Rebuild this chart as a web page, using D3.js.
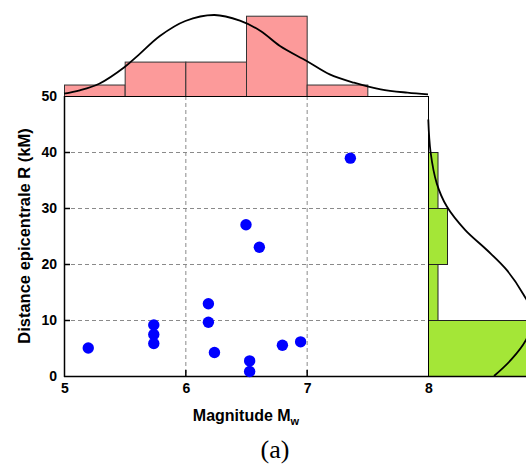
<!DOCTYPE html>
<html>
<head>
<meta charset="utf-8">
<script src="https://cdn.jsdelivr.net/npm/d3@7"></script>
<style>
  html, body { margin: 0; padding: 0; background: #fff; }
  svg { display: block; }
</style>
</head>
<body>
<script>
// ---------- data ----------
const magnitude = [5.20, 5.74, 5.74, 5.74, 6.19, 6.19, 6.24, 6.50, 6.53, 6.53, 6.61, 6.80, 6.95, 7.36];
const distance  = [5.0, 9.1, 7.4, 5.8, 12.9, 9.6, 4.2, 27.0, 2.7, 0.8, 23.0, 5.5, 6.1, 38.9];

const magBinEdges = [5, 5.5, 6, 6.5, 7, 7.5];
const magCounts   = [1, 3, 3, 7, 1];
const distBinEdges = [0, 10, 20, 30, 40];
const distCounts   = [11, 1, 2, 1];

// fitted density curves (in count units)
const magCurveM = [5.0, 5.13, 5.29, 5.5, 5.62, 5.79, 6.0, 6.24, 6.45, 6.62, 6.78, 7.0, 7.19, 7.39, 7.61, 7.83, 8.0];
const magCurveC = [0.2, 0.49, 1.07, 2.53, 3.63, 5.23, 6.54, 7.06, 6.57, 5.67, 4.36, 3.05, 1.88, 1.16, 0.58, 0.29, 0.14];
const distCurveD = [0, 3, 6.4, 10.5, 14.7, 18.9, 22.5, 26.1, 30.3, 34.4, 40, 45.8];
const distCurveC = [6.95, 8.8, 10.3, 11.15, 10.0, 8.3, 6.2, 3.9, 1.97, 0.92, 0.27, 0.03];

const xTicks = [5, 6, 7, 8];
const yTicks = [0, 10, 20, 30, 40, 50];
const xGrid = [6, 7];
const yGrid = [10, 20, 30, 40];

const xLabel = "Magnitude M";
const xLabelSub = "w";
const yLabel = "Distance epicentrale R (kM)";
const panelLabel = "(a)";

// ---------- layout ----------
const W = 526, H = 465;
const svg = d3.select("body").append("svg").attr("width", W).attr("height", H);

const x = d3.scaleLinear().domain([5, 8]).range([64, 428]);
const y = d3.scaleLinear().domain([0, 50]).range([376, 96]);
const topC = d3.scaleLinear().domain([0, 7]).range([96, 15.7]);
const rightC = d3.scaleLinear().domain([0, 10]).range([428, 523]);

const font = "'Liberation Sans', Arial, Helvetica, sans-serif";

// grid
const g = svg.append("g");
g.selectAll("line.gx").data(xGrid).enter().append("line")
  .attr("x1", d => x(d) + 0.5).attr("x2", d => x(d) + 0.5)
  .attr("y1", y(50)).attr("y2", y(0))
  .attr("stroke", "#8a8a8a").attr("stroke-width", 1).attr("stroke-dasharray", "4,3");
g.selectAll("line.gy").data(yGrid).enter().append("line")
  .attr("x1", x(5)).attr("x2", x(8))
  .attr("y1", d => y(d) + 0.5).attr("y2", d => y(d) + 0.5)
  .attr("stroke", "#8a8a8a").attr("stroke-width", 1).attr("stroke-dasharray", "4,3");

// top histogram
const magBins = magCounts.map((c, i) => ({x0: magBinEdges[i], x1: magBinEdges[i + 1], c}));
svg.selectAll("rect.mag").data(magBins).enter().append("rect")
  .attr("x", d => x(d.x0) + 0.5).attr("width", d => x(d.x1) - x(d.x0))
  .attr("y", d => topC(d.c) + 0.5).attr("height", d => topC(0) - topC(d.c))
  .attr("fill", "#fc9a9a").attr("stroke", "#333").attr("stroke-width", 1);

// right histogram
const distBins = distCounts.map((c, i) => ({y0: distBinEdges[i], y1: distBinEdges[i + 1], c}));
svg.selectAll("rect.dist").data(distBins).enter().append("rect")
  .attr("x", rightC(0) + 0.5).attr("width", d => rightC(d.c) - rightC(0))
  .attr("y", d => y(d.y1) + 0.5).attr("height", d => y(d.y0) - y(d.y1))
  .attr("fill", "#a4e637").attr("stroke", "#222").attr("stroke-width", 1);

// frame (plot box)
svg.append("rect")
  .attr("x", x(5) + 0.5).attr("y", y(50) + 0.5)
  .attr("width", x(8) - x(5)).attr("height", y(0) - y(50))
  .attr("fill", "none").attr("stroke", "#000").attr("stroke-width", 1);
// stronger left & bottom axes
svg.append("line").attr("x1", x(5) + 0.5).attr("x2", x(5) + 0.5).attr("y1", y(50)).attr("y2", y(0) + 1)
  .attr("stroke", "#000").attr("stroke-width", 1.5);
svg.append("line").attr("x1", x(5)).attr("x2", W).attr("y1", y(0) + 0.5).attr("y2", y(0) + 0.5)
  .attr("stroke", "#000").attr("stroke-width", 1.5);

// inward ticks
svg.selectAll("line.ty").data(yTicks.filter(d => d > 0 && d < 50)).enter().append("line")
  .attr("x1", x(5)).attr("x2", x(5) + 6).attr("y1", d => y(d) + 0.5).attr("y2", d => y(d) + 0.5)
  .attr("stroke", "#000").attr("stroke-width", 1.5);
svg.selectAll("line.tx").data(xTicks.filter(d => d > 5 && d < 8)).enter().append("line")
  .attr("x1", d => x(d) + 0.5).attr("x2", d => x(d) + 0.5).attr("y1", y(0)).attr("y2", y(0) - 6)
  .attr("stroke", "#000").attr("stroke-width", 1.5);

// tick labels
svg.selectAll("text.xt").data(xTicks).enter().append("text")
  .attr("x", d => x(d) + 1).attr("y", 393)
  .attr("text-anchor", "middle")
  .style("font-family", font).style("font-weight", "bold").style("font-size", "14px")
  .text(d => d);
svg.selectAll("text.yt").data(yTicks).enter().append("text")
  .attr("x", 57).attr("y", d => y(d) + 5)
  .attr("text-anchor", "end")
  .style("font-family", font).style("font-weight", "bold").style("font-size", "14px")
  .text(d => d);

// density curves
const topLine = d3.line()
  .x((d, i) => x(magCurveM[i]))
  .y((d, i) => topC(magCurveC[i]))
  .curve(d3.curveCatmullRom);
svg.append("path").attr("d", topLine(magCurveM))
  .attr("fill", "none").attr("stroke", "#000").attr("stroke-width", 1.8);

const rightLine = d3.line()
  .x((d, i) => rightC(distCurveC[i]))
  .y((d, i) => y(distCurveD[i]))
  .curve(d3.curveCatmullRom);
svg.append("path").attr("d", rightLine(distCurveD))
  .attr("fill", "none").attr("stroke", "#000").attr("stroke-width", 1.8);

// scatter points
svg.selectAll("circle.pt").data(magnitude).enter().append("circle")
  .attr("cx", d => x(d)).attr("cy", (d, i) => y(distance[i]))
  .attr("r", 5.7).attr("fill", "#0000ff");

// axis titles
const xt = svg.append("text")
  .attr("x", 246).attr("y", 421).attr("text-anchor", "middle")
  .style("font-family", font).style("font-weight", "bold").style("font-size", "16px");
xt.append("tspan").text(xLabel);
xt.append("tspan").attr("dy", 4).style("font-size", "11px").text(xLabelSub);

svg.append("text")
  .attr("transform", "translate(30,236) rotate(-90)")
  .attr("text-anchor", "middle")
  .style("font-family", font).style("font-weight", "bold").style("font-size", "16.5px")
  .text(yLabel);

svg.append("text")
  .attr("x", 275).attr("y", 458).attr("text-anchor", "middle")
  .style("font-family", "'Liberation Serif', 'Times New Roman', serif").style("font-size", "26px")
  .text(panelLabel);
</script>
</body>
</html>
